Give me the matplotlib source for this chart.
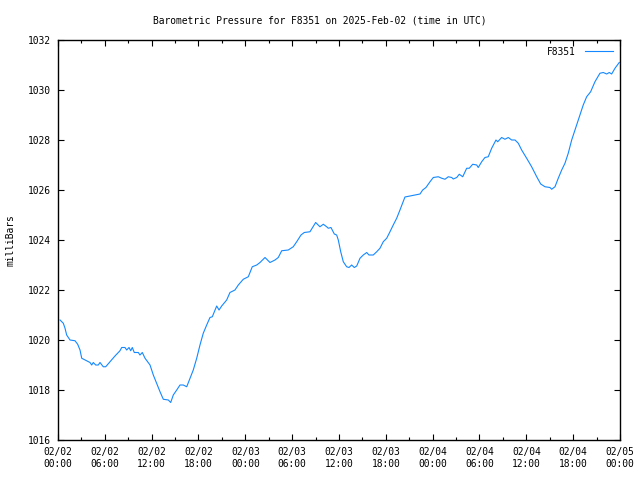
import numpy as np
import pandas as pd
import matplotlib
matplotlib.use('Agg')
import matplotlib.pyplot as plt
import matplotlib.dates as mdates

# ================================
# DATA (hours since 2025-02-02 00:00 UTC, pressure in mbar)
# ================================
hours = [0.26, 0.68, 0.90, 1.11, 1.54, 2.18, 2.52, 2.82, 3.04, 3.68, 4.10, 4.32, 4.52, 4.83,
         5.16, 5.38, 5.80, 6.11, 6.66, 7.30, 7.94, 8.16, 8.58, 8.80, 9.10, 9.31, 9.52, 9.77,
         10.29, 10.50, 10.80, 11.15, 11.79, 12.21, 12.64, 13.07, 13.49, 14.13, 14.44, 14.77,
         15.21, 15.63, 16.05, 16.49, 16.91, 17.33, 17.77, 18.19, 18.61, 19.05, 19.47, 19.77,
         20.33, 20.63, 20.97, 21.61, 22.03, 22.67, 23.10, 23.74, 24.38, 24.89, 25.46, 25.88,
         26.52, 27.16, 27.80, 28.22, 28.66, 29.50, 30.14, 30.58, 31.13, 31.55, 32.28, 33.01,
         33.56, 33.99, 34.42, 34.63, 34.97, 35.40, 35.70, 35.91, 36.22, 36.55, 36.98, 37.28,
         37.62, 37.96, 38.27, 38.69, 39.11, 39.55, 39.84, 40.39, 40.83, 41.25, 41.67, 42.11,
         42.53, 42.95, 43.39, 43.81, 44.45, 45.09, 45.73, 46.38, 46.72, 47.14, 47.66, 48.08,
         48.72, 49.16, 49.58, 50.00, 50.44, 50.64, 51.08, 51.41, 51.85, 52.36, 52.69, 53.13,
         53.64, 53.84, 54.28, 54.70, 55.12, 55.56, 56.11, 56.33, 56.84, 57.26, 57.69, 58.12,
         58.55, 58.97, 59.40, 60.04, 60.68, 61.33, 61.84, 62.39, 63.03, 63.25, 63.67, 64.09,
         64.53, 64.95, 65.37, 65.81, 66.23, 66.78, 67.29, 67.73, 68.24, 68.79, 69.43, 69.86,
         70.29, 70.63, 70.93, 71.36, 71.90]

pressure = [1020.80, 1020.67, 1020.47, 1020.20, 1020.00, 1019.97, 1019.83, 1019.60, 1019.27,
            1019.17, 1019.10, 1019.00, 1019.10, 1019.00, 1019.00, 1019.10, 1018.93, 1018.93,
            1019.13, 1019.36, 1019.57, 1019.70, 1019.70, 1019.60, 1019.70, 1019.57, 1019.70,
            1019.50, 1019.50, 1019.40, 1019.50, 1019.27, 1019.00, 1018.60, 1018.27, 1017.93,
            1017.63, 1017.60, 1017.50, 1017.80, 1018.00, 1018.20, 1018.20, 1018.13, 1018.47,
            1018.80, 1019.27, 1019.80, 1020.27, 1020.60, 1020.90, 1020.93, 1021.36, 1021.20,
            1021.36, 1021.60, 1021.90, 1022.00, 1022.20, 1022.43, 1022.53, 1022.93, 1023.00,
            1023.10, 1023.30, 1023.10, 1023.20, 1023.30, 1023.57, 1023.60, 1023.73, 1023.93,
            1024.20, 1024.30, 1024.33, 1024.70, 1024.53, 1024.63, 1024.53, 1024.47, 1024.50,
            1024.24, 1024.20, 1024.00, 1023.53, 1023.13, 1022.93, 1022.90, 1023.00, 1022.90,
            1022.96, 1023.27, 1023.40, 1023.50, 1023.40, 1023.40, 1023.53, 1023.67, 1023.93,
            1024.07, 1024.33, 1024.60, 1024.87, 1025.20, 1025.72, 1025.76, 1025.80, 1025.84,
            1026.00, 1026.10, 1026.33, 1026.50, 1026.53, 1026.47, 1026.43, 1026.53, 1026.50,
            1026.44, 1026.50, 1026.63, 1026.53, 1026.87, 1026.87, 1027.03, 1027.00, 1026.90,
            1027.13, 1027.30, 1027.33, 1027.67, 1028.00, 1027.93, 1028.10, 1028.03, 1028.10,
            1028.00, 1028.00, 1027.87, 1027.60, 1027.27, 1026.93, 1026.53, 1026.24, 1026.13,
            1026.10, 1026.03, 1026.13, 1026.47, 1026.80, 1027.07, 1027.47, 1028.00, 1028.40,
            1028.93, 1029.40, 1029.73, 1029.93, 1030.33, 1030.67, 1030.70, 1030.64, 1030.70,
            1030.64, 1030.87, 1031.10]

start = pd.Timestamp('2025-02-02 00:00')
end = pd.Timestamp('2025-02-05 00:00')
times = start + pd.to_timedelta(hours, unit='h')

# ================================
# PLOT
# ================================
plt.rcParams['font.family'] = ['DejaVu Sans Mono']
plt.rcParams['font.size'] = 6.9

fig = plt.figure(figsize=(6.4, 4.8), dpi=100)
ax = fig.add_axes([58/640, 40/480, 562/640, 400/480])

ax.plot(times, pressure, color='#1488ff', linewidth=0.8, label='F8351')

ax.set_xlim(start, end)
ax.set_ylim(1016, 1032)
ax.set_yticks(np.arange(1016, 1033, 2))

ax.xaxis.set_major_locator(mdates.HourLocator(byhour=[0, 6, 12, 18]))
ax.xaxis.set_minor_locator(mdates.HourLocator(byhour=[3, 9, 15, 21]))
ax.xaxis.set_major_formatter(mdates.DateFormatter('%m/%d\n%H:%M'))

ax.tick_params(which='both', direction='in', top=True, right=True, width=0.8, colors='black')
ax.tick_params(which='major', length=4.5, pad=5)
ax.tick_params(which='minor', length=2.5)
for s in ax.spines.values():
    s.set_linewidth(1.0)

ax.set_ylabel('milliBars', labelpad=9)
fig.suptitle('Barometric Pressure for F8351 on 2025-Feb-02 (time in UTC)', y=0.968, fontsize=6.9)

ax.legend(loc='upper right', frameon=False, handlelength=3.0, markerfirst=False,
          borderaxespad=0.3, handletextpad=0.9)

plt.savefig('out.png', dpi=100)
